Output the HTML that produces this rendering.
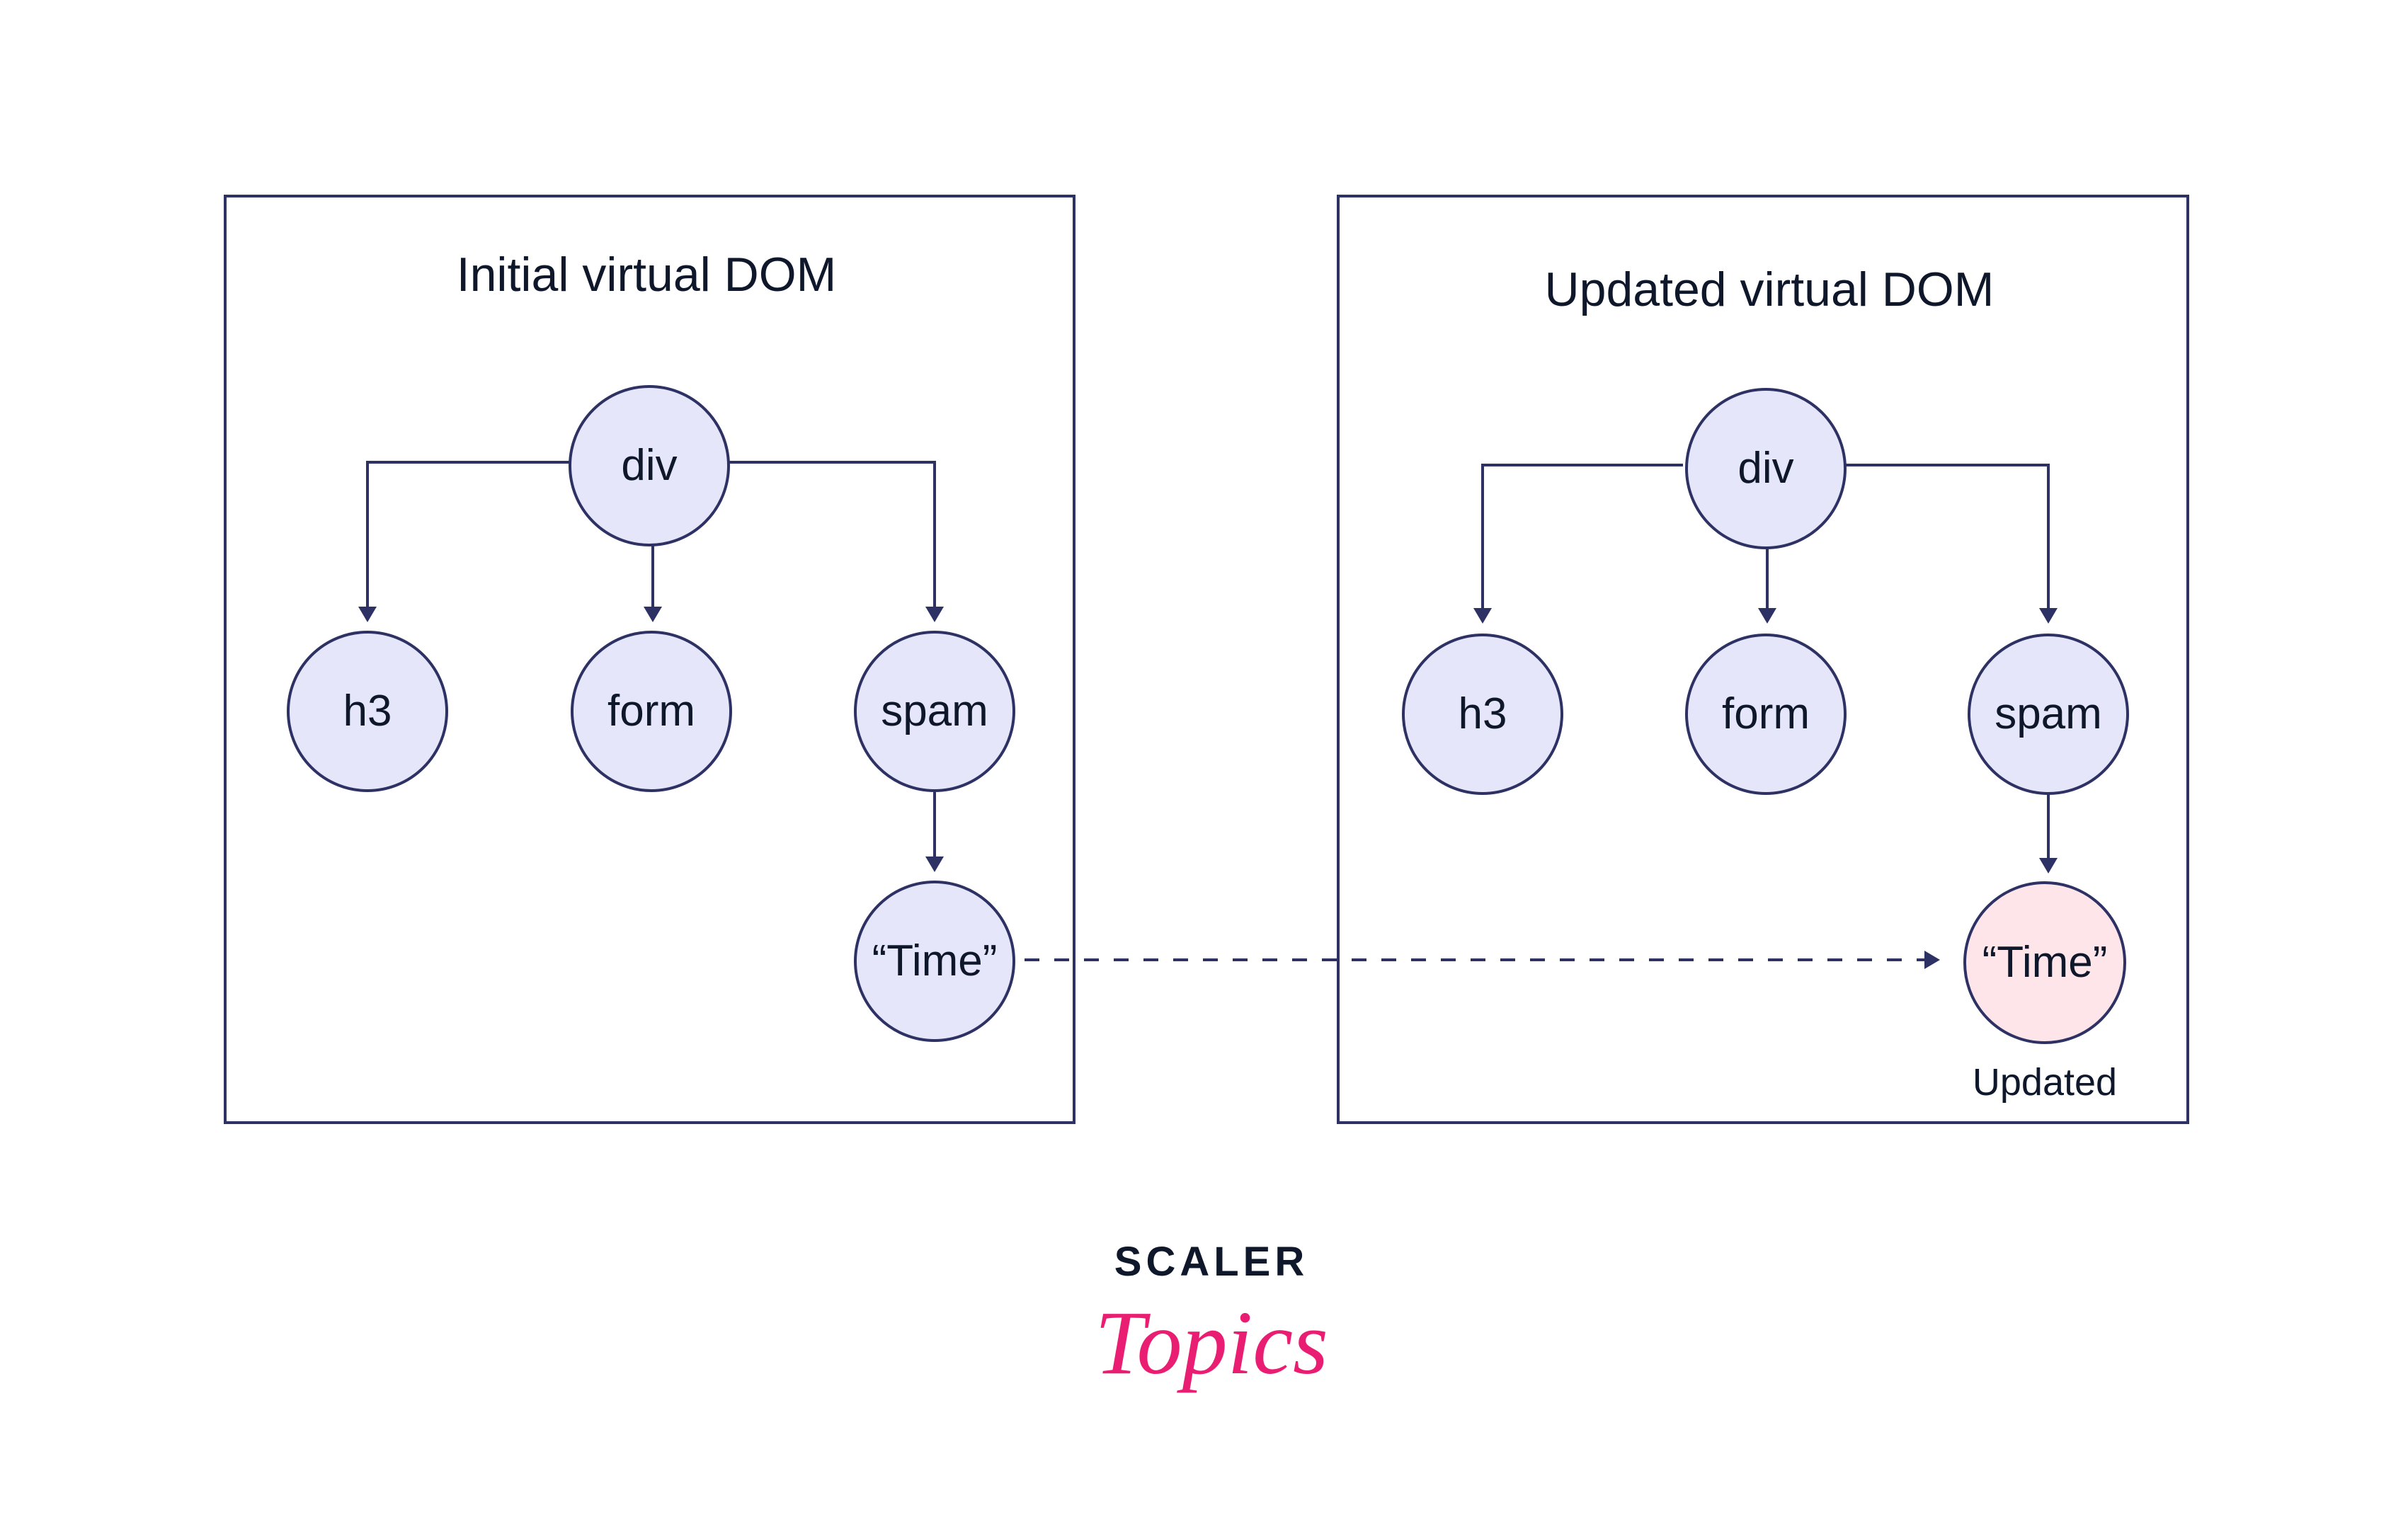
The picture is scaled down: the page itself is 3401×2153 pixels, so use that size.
<!DOCTYPE html>
<html><head><meta charset="utf-8">
<style>
html,body{margin:0;padding:0;background:#fff;}
svg{display:block;}
text{font-family:"Liberation Sans","DejaVu Sans",sans-serif;fill:#0f172a;}
</style></head>
<body>
<svg width="3401" height="2153" viewBox="0 0 3401 2153" xmlns="http://www.w3.org/2000/svg">
<rect width="3401" height="2153" fill="#fff"/>
<g fill="none" stroke="#2e3163" stroke-width="4">
<rect x="318" y="277" width="1199" height="1309"/>
<rect x="1890" y="277" width="1200" height="1309"/>
</g>
<text x="913" y="411" font-size="68" text-anchor="middle">Initial virtual DOM</text>
<text x="2499" y="432" font-size="68" text-anchor="middle">Updated virtual DOM</text>

<g stroke="#2e3163" stroke-width="4" fill="none">
<polyline points="806,653 519,653 519,858"/>
<polyline points="1029,653 1320,653 1320,858"/>
<line x1="922" y1="770" x2="922" y2="858"/>
<line x1="1320" y1="1118" x2="1320" y2="1210"/>
<polyline points="2377,657 2094,657 2094,860"/>
<polyline points="2600,657 2893,657 2893,860"/>
<line x1="2496" y1="774" x2="2496" y2="860"/>
<line x1="2893" y1="1122" x2="2893" y2="1212"/>
<line x1="1447" y1="1356" x2="2722" y2="1356" stroke-dasharray="21 21"/>
</g>
<g fill="#2e3163">
<polygon points="506,857 532,857 519,879"/>
<polygon points="909,857 935,857 922,879"/>
<polygon points="1307,857 1333,857 1320,879"/>
<polygon points="1307,1210 1333,1210 1320,1232"/>
<polygon points="2081,859 2107,859 2094,881"/>
<polygon points="2483,859 2509,859 2496,881"/>
<polygon points="2880,859 2906,859 2893,881"/>
<polygon points="2880,1212 2906,1212 2893,1234"/>
<polygon points="2718,1343 2718,1369 2740,1356"/>
</g>

<g fill="#e6e6fb" stroke="#2e3163" stroke-width="4">
<circle cx="917" cy="658" r="112"/>
<circle cx="519" cy="1005" r="112"/>
<circle cx="920" cy="1005" r="112"/>
<circle cx="1320" cy="1005" r="112"/>
<circle cx="1320" cy="1358" r="112"/>
<circle cx="2494" cy="662" r="112"/>
<circle cx="2094" cy="1009" r="112"/>
<circle cx="2494" cy="1009" r="112"/>
<circle cx="2893" cy="1009" r="112"/>
<circle cx="2888" cy="1360" r="113" fill="#fde5ea"/>
</g>
<g font-size="62" text-anchor="middle">
<text x="917" y="678">div</text>
<text x="519" y="1025">h3</text>
<text x="920" y="1025">form</text>
<text x="1320" y="1025">spam</text>
<text x="1320" y="1378">“Time”</text>
<text x="2494" y="682">div</text>
<text x="2094" y="1029">h3</text>
<text x="2494" y="1029">form</text>
<text x="2893" y="1029">spam</text>
<text x="2888" y="1380">“Time”</text>
</g>
<text x="2888" y="1547" font-size="54" text-anchor="middle">Updated</text>

<text x="1711" y="1802" font-size="58" font-weight="bold" text-anchor="middle" letter-spacing="6" fill="#0f1729">SCALER</text>
<text x="1711" y="1940" font-size="128" font-style="italic" text-anchor="middle" style="font-family:'Liberation Serif',serif;fill:#e91e72">Topics</text>
</svg>
</body></html>
